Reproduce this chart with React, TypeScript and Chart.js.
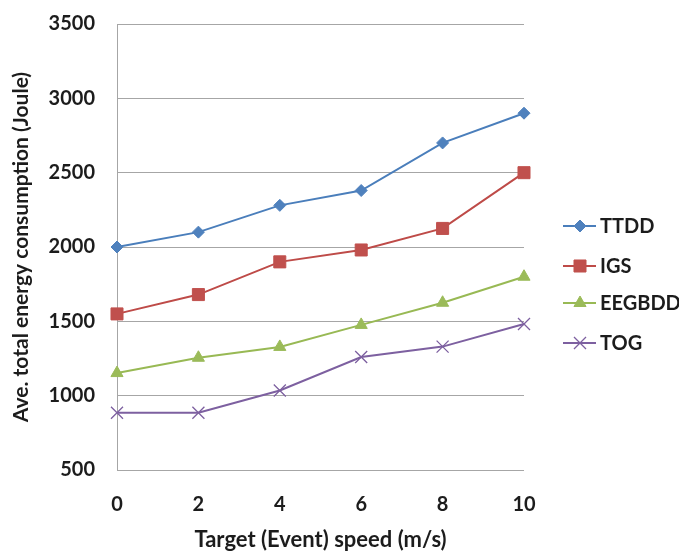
import React, { useEffect, useRef } from "react";
import { Chart, registerables } from "chart.js";
import { drawPoint } from "chart.js/helpers";

Chart.register(...registerables);

const speeds = ["0", "2", "4", "6", "8", "10"];
const ttdd = [2000, 2100, 2280, 2380, 2700, 2900];
const igs = [1550, 1680, 1900, 1980, 2125, 2500];
const eegbdd = [1152, 1255, 1328, 1476, 1625, 1800];
const tog = [885, 885, 1035, 1260, 1330, 1482];

const FONT = "Lato, 'Open Sans', sans-serif";
const TEXT = "#1c1c1c";

const legendPlugin = {
  id: "sideLegend",
  afterDraw(chart: any) {
    const ctx = chart.ctx;
    const ys = [226, 266, 303, 343];
    ctx.save();
    chart.data.datasets.forEach((ds: any, i: number) => {
      const y = ys[i];
      ctx.strokeStyle = ds.borderColor;
      ctx.lineWidth = 2;
      ctx.beginPath();
      ctx.moveTo(563, y);
      ctx.lineTo(596, y);
      ctx.stroke();
      ctx.fillStyle = ds.pointBackgroundColor;
      ctx.strokeStyle = ds.pointBorderColor;
      ctx.lineWidth = ds.pointBorderWidth;
      drawPoint(ctx, { pointStyle: ds.pointStyle, rotation: 0, radius: ds.pointRadius, borderWidth: ds.pointBorderWidth }, 580, y);
      ctx.fillStyle = TEXT;
      ctx.font = `bold 20px ${FONT}`;
      ctx.textAlign = "left";
      ctx.textBaseline = "middle";
      ctx.fillText(ds.label, 600, y + 1);
    });
    ctx.restore();
  },
};

export default function App() {
  const ref = useRef<HTMLCanvasElement | null>(null);
  useEffect(() => {
    if (!ref.current) return;
    const mk = (label: string, data: number[], line: string, fill: string, style: string, r: number) => ({
      label,
      data,
      borderColor: line,
      backgroundColor: fill,
      borderWidth: 2,
      pointStyle: style,
      pointRadius: r,
      pointHoverRadius: r,
      pointBackgroundColor: fill,
      pointBorderColor: style === "crossRot" ? line : fill,
      pointBorderWidth: style === "crossRot" ? 1.3 : 1,
      tension: 0,
    });
    const chart = new Chart(ref.current, {
      type: "line",
      data: {
        labels: speeds,
        datasets: [
          mk("TTDD", ttdd, "#4A7EBB", "#4F81BD", "rectRot", 6),
          mk("IGS", igs, "#BE4B48", "#C0504D", "rect", 8.5),
          mk("EEGBDD", eegbdd, "#98B954", "#9BBB59", "triangle", 7),
          mk("TOG", tog, "#7D60A0", "#8064A2", "crossRot", 8.5),
        ] as any,
      },
      options: {
        responsive: false,
        animation: false,
        layout: { padding: { top: 24, right: 155, bottom: 0, left: 0 } },
        plugins: { legend: { display: false }, tooltip: { enabled: false } },
        scales: {
          x: {
            offset: false,
            grid: { display: false, drawTicks: false },
            border: { display: false },
            ticks: { color: TEXT, font: { family: FONT, size: 20, weight: "bold" }, padding: 23, maxRotation: 0 },
            title: {
              display: true,
              text: "Target (Event) speed (m/s)",
              color: TEXT,
              font: { family: FONT, size: 22, weight: "bold" },
              padding: { top: 0, bottom: 0 },
            },
            afterFit: (s: any) => { s.height = 553 - 470; s.paddingLeft = 0; s.paddingRight = 0; },
          },
          y: {
            min: 500,
            max: 3500,
            ticks: {
              stepSize: 500,
              color: TEXT,
              font: { family: FONT, size: 20, weight: "bold" },
              padding: 22,
              callback: (v: any) => String(v),
            },
            grid: { color: "#A6A6A6", lineWidth: 1, drawTicks: false },
            border: { display: true, color: "#A6A6A6", width: 1 },
            title: {
              display: true,
              text: "Ave. total energy consumption (Joule)",
              color: TEXT,
              font: { family: FONT, size: 21, weight: "bold" },
              padding: { top: 9, bottom: 0 },
            },
            afterFit: (s: any) => { s.width = 117; s.paddingTop = 0; s.paddingBottom = 0; },
          },
        },
      },
      plugins: [legendPlugin],
    });
    return () => chart.destroy();
  }, []);
  return (
    <canvas
      ref={ref}
      width={679}
      height={553}
      style={{ position: "fixed", left: 0, top: 0, width: 679, height: 553, display: "block", background: "#fff" }}
    />
  );
}
